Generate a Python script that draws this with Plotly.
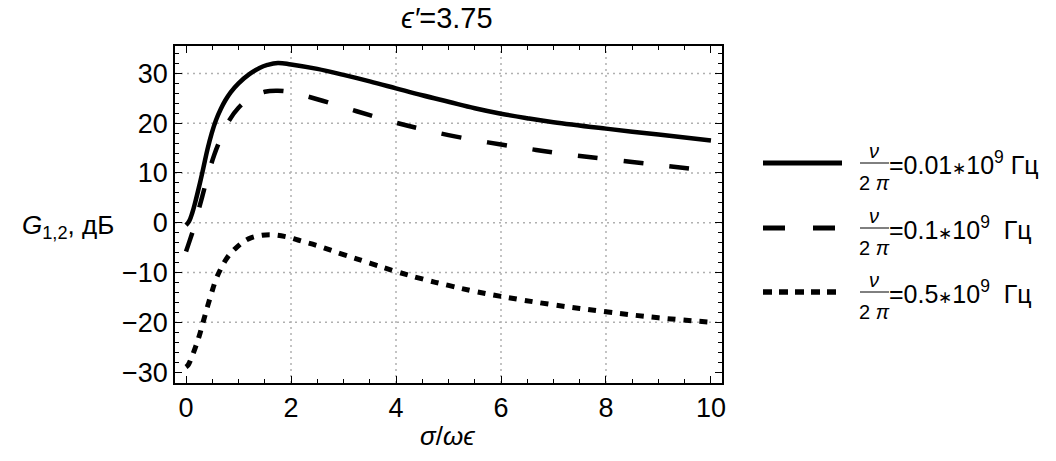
import plotly.graph_objects as go

# ---- data ----
x_solid = [0, 0.06, 0.12, 0.18, 0.25, 0.33, 0.41, 0.49, 0.57, 0.66, 0.75, 0.85, 1.0, 1.2, 1.4, 1.55, 1.75, 2.0, 2.5, 3, 3.5, 4, 4.5, 5, 5.5, 6, 6.5, 7, 8, 9, 10]
y_solid = [-0.5, 0.3, 2.0, 4.3, 7.3, 11.0, 14.8, 18.0, 20.6, 22.8, 24.6, 26.2, 28.0, 29.8, 31.1, 31.7, 32.1, 31.8, 30.9, 29.7, 28.4, 27.0, 25.6, 24.3, 23.0, 21.9, 21.0, 20.2, 18.9, 17.7, 16.5]

x_dash = [0, 0.07, 0.15, 0.23, 0.31, 0.42, 0.54, 0.68, 0.82, 1.0, 1.25, 1.5, 1.75, 2.0, 2.5, 3, 3.5, 4, 4.5, 5, 5.5, 6, 6.5, 7, 8, 9, 10]
y_dash = [-5.8, -3.6, -1.0, 2.2, 5.3, 9.6, 13.7, 17.4, 20.5, 23.1, 25.2, 26.3, 26.5, 26.2, 24.8, 23.2, 21.6, 20.1, 18.8, 17.6, 16.6, 15.7, 14.9, 14.1, 12.8, 11.6, 10.4]

x_dot = [0, 0.04, 0.09, 0.17, 0.25, 0.33, 0.41, 0.49, 0.57, 0.66, 0.76, 0.87, 0.98, 1.1, 1.2, 1.35, 1.6, 1.9, 2.2, 2.5, 3, 3.5, 4, 4.5, 5, 5.5, 6, 7, 8, 9, 10]
y_dot = [-29.0, -28.6, -27.5, -25.3, -22.8, -19.8, -16.8, -14.0, -11.4, -9.3, -7.4, -5.9, -4.8, -3.8, -3.2, -2.7, -2.4, -2.8, -3.7, -4.6, -6.4, -8.1, -9.8, -11.3, -12.6, -13.8, -14.8, -16.5, -17.9, -19.1, -20.0]

legend_values = ["0.01", "0.1", "0.5"]
x_ticks = [0, 2, 4, 6, 8, 10]
y_ticks = [-30, -20, -10, 0, 10, 20, 30]
x_grid = [2, 4, 6, 8]
y_grid = [-20, -10, 0, 10, 20, 30]

FONT = "Liberation Sans"

fig = go.Figure()
fig.add_trace(go.Scatter(x=x_solid, y=y_solid, mode="lines", line=dict(color="black", width=4.5, shape="spline", smoothing=1.1), showlegend=False))
fig.add_trace(go.Scatter(x=x_dash, y=y_dash, mode="lines", line=dict(color="black", width=4.5, shape="spline", smoothing=1.1, dash="20px,26px"), showlegend=False))
fig.add_trace(go.Scatter(x=x_dot, y=y_dot, mode="lines", line=dict(color="black", width=5, shape="spline", smoothing=1.1, dash="8px,8px"), showlegend=False))

shapes = []
for gx in x_grid:
    shapes.append(dict(type="line", xref="x", yref="paper", x0=gx, x1=gx, y0=0, y1=1,
                       line=dict(color="#b0b0b0", width=1.5, dash="2px,4px"), layer="below"))
for gy in y_grid:
    shapes.append(dict(type="line", xref="paper", yref="y", x0=0, x1=1, y0=gy, y1=gy,
                       line=dict(color="#b0b0b0", width=1.5, dash="2px,4px"), layer="below"))

# custom legend (pixel -> paper conversion for the plot area 175..722 x 46..383)
L, R, T, B = 175, 722, 46, 383
def px(xp):
    return (xp - L) / (R - L)
def py(yp):
    return (B - yp) / (B - T)

legend_rows = [163, 228, 292]
legend_dash = ["solid", "22px,28px", "9px,7px"]
legend_w = [5, 5, 5.5]
annotations = []
for yy, dash, w, val, sp in zip(legend_rows, legend_dash, legend_w, legend_values, ["", "&nbsp;", "&nbsp;"]):
    shapes.append(dict(type="line", xref="paper", yref="paper", x0=px(763), x1=px(842), y0=py(yy), y1=py(yy),
                       line=dict(color="black", width=w, dash=dash)))
    shapes.append(dict(type="line", xref="paper", yref="paper", x0=px(860), x1=px(889), y0=py(yy), y1=py(yy),
                       line=dict(color="black", width=1)))
    annotations.append(dict(xref="paper", yref="paper", x=px(874), y=py(yy - 12), text="<i>ν</i>", showarrow=False,
                            font=dict(family=FONT, size=20, color="black"), xanchor="center", yanchor="middle"))
    annotations.append(dict(xref="paper", yref="paper", x=px(874), y=py(yy + 20), text="2 <i>π</i>", showarrow=False,
                            font=dict(family=FONT, size=20, color="black"), xanchor="center", yanchor="middle"))
    annotations.append(dict(xref="paper", yref="paper", x=px(887), y=py(yy),
                            text="=" + val + "<span style=\"font-size:17px\">∗</span>10<sup>9</sup> " + sp + "Гц",
                            showarrow=False, font=dict(family=FONT, size=25, color="black"), xanchor="left", yanchor="middle"))

annotations.append(dict(xref="paper", yref="paper", x=px(447), y=py(18), text="<i>ϵ′</i>=3.75", showarrow=False,
                        font=dict(family=FONT, size=29, color="black"), xanchor="center", yanchor="middle"))
annotations.append(dict(xref="paper", yref="paper", x=px(447), y=py(436), text="<i>σ</i>/<i>ωϵ</i>", showarrow=False,
                        font=dict(family=FONT, size=26, color="black"), xanchor="center", yanchor="middle"))
annotations.append(dict(xref="paper", yref="paper", x=px(20), y=py(226), text="<i>G</i><sub>1,2</sub>, дБ", showarrow=False,
                        font=dict(family=FONT, size=26, color="black"), xanchor="left", yanchor="middle"))

axis_common = dict(showline=True, linecolor="black", linewidth=1.5, mirror="allticks", ticks="inside",
                   ticklen=7, tickwidth=1.3, tickcolor="black", showgrid=False, zeroline=False,
                   tickfont=dict(family=FONT, size=27, color="black"))

fig.update_layout(
    width=1056, height=461,
    margin=dict(l=L, r=1056 - R, t=T, b=461 - B),
    paper_bgcolor="white", plot_bgcolor="white",
    xaxis=dict(range=[-0.21, 10.21], tickvals=x_ticks, ticktext=[str(v) for v in x_ticks],
               minor=dict(dtick=0.5, tick0=0, ticks="inside", ticklen=4, tickcolor="black", showgrid=False),
               **axis_common),
    yaxis=dict(range=[-32.2, 35.5], tickvals=y_ticks, ticktext=[str(v).replace("-", "−") for v in y_ticks],
               minor=dict(dtick=2, tick0=0, ticks="inside", ticklen=4, tickcolor="black", showgrid=False),
               **axis_common),
    shapes=shapes, annotations=annotations, showlegend=False,
)

fig.write_html("out.html")
